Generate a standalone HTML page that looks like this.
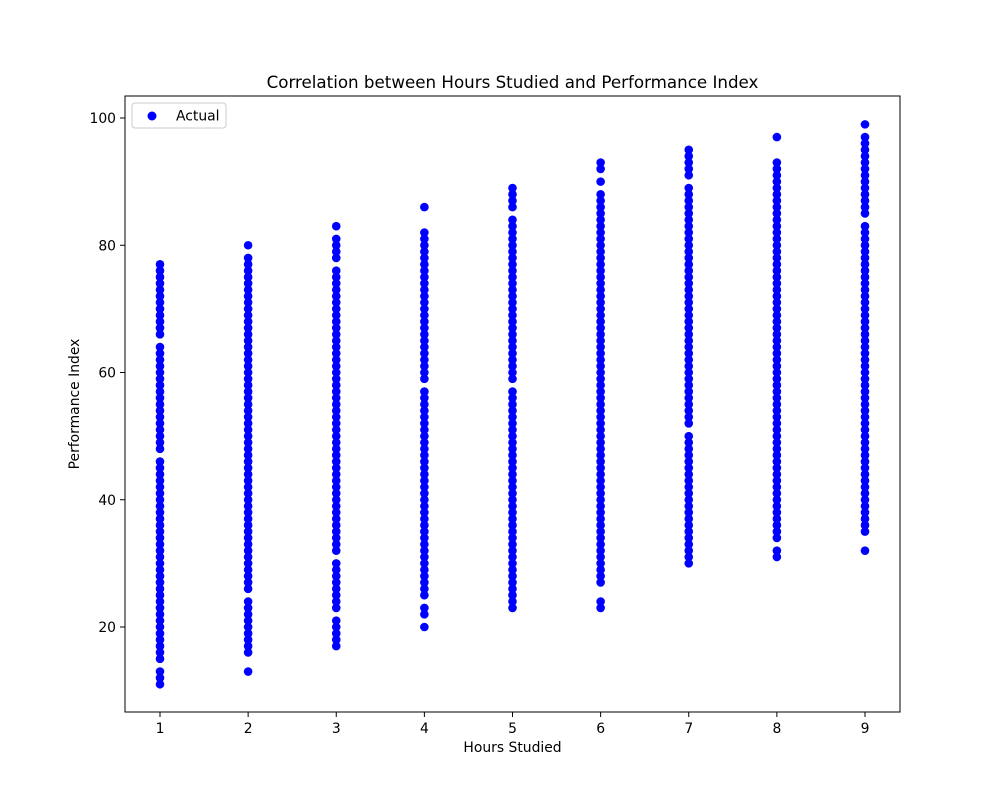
<!DOCTYPE html>
<html><head><meta charset="utf-8"><style>
body{margin:0;background:#fff;}
svg text{font-family:"DejaVu Sans","Liberation Sans",sans-serif;fill:#000;}
</style></head><body>
<svg id="chart" width="1000" height="800" xmlns="http://www.w3.org/2000/svg">
<rect width="1000" height="800" fill="#fff"/>
<g id="points"></g>
<rect x="125" y="96" width="775" height="616" fill="none" stroke="#000" stroke-width="1"/>
<g id="xticks"></g>
<g id="yticks"></g>
<text x="512.5" y="88" font-size="16.7" text-anchor="middle">Correlation between Hours Studied and Performance Index</text>
<text x="512.5" y="752" font-size="13.9" text-anchor="middle">Hours Studied</text>
<text x="79" y="404" font-size="13.9" text-anchor="middle" transform="rotate(-90 79 404)">Performance Index</text>
<g>
<rect x="132" y="103" width="94" height="25" rx="3" fill="#fff" stroke="#ccc"/>
<circle cx="152" cy="116" r="4.5" fill="#0000ff"/>
<text x="176" y="120.5" font-size="13.9">Actual</text>
</g>
</svg>
<script>
const hours = [1,2,3,4,5,6,7,8,9];
const segments1 = [[11,13],[15,46],[48,64],[66,77]];
const segments2 = [[13,13],[16,24],[26,78],[80,80]];
const segments3 = [[17,21],[23,30],[32,76],[78,81],[83,83]];
const segments4 = [[20,20],[22,23],[25,57],[59,82],[86,86]];
const segments5 = [[23,57],[59,84],[86,89]];
const segments6 = [[23,24],[27,88],[90,90],[92,93]];
const segments7 = [[30,50],[52,89],[91,95]];
const segments8 = [[31,32],[34,93],[97,97]];
const segments9 = [[32,32],[35,83],[85,97],[99,99]];
const allSegments = [segments1,segments2,segments3,segments4,segments5,segments6,segments7,segments8,segments9];
const xTickLabels = [1,2,3,4,5,6,7,8,9];
const yTickLabels = [20,40,60,80,100];

const NS="http://www.w3.org/2000/svg";
function xs(v){return 160+(v-1)*(865-160)/8;}
function ys(v){return 627-(v-20)*(627-118)/80;}
const pts=document.getElementById('points');
hours.forEach((h,i)=>{
  allSegments[i].forEach(seg=>{
    for(let v=seg[0];v<=seg[1];v++){
      const c=document.createElementNS(NS,'circle');
      c.setAttribute('cx',xs(h));c.setAttribute('cy',ys(v));c.setAttribute('r',4.3);c.setAttribute('fill','#0000ff');
      
      
      pts.appendChild(c);
    }
  });
});
const xg=document.getElementById('xticks');
xTickLabels.forEach(t=>{
  const l=document.createElementNS(NS,'line');
  l.setAttribute('x1',xs(t));l.setAttribute('x2',xs(t));l.setAttribute('y1',712);l.setAttribute('y2',717);l.setAttribute('stroke','#000');
  
  
  xg.appendChild(l);
  const tx=document.createElementNS(NS,'text');
  tx.setAttribute('x',xs(t));tx.setAttribute('y',733);tx.setAttribute('font-size','13.9');tx.setAttribute('text-anchor','middle');
  tx.textContent=t;
  
  
  xg.appendChild(tx);
});
const yg=document.getElementById('yticks');
yTickLabels.forEach(t=>{
  const l=document.createElementNS(NS,'line');
  l.setAttribute('x1',120);l.setAttribute('x2',125);l.setAttribute('y1',ys(t));l.setAttribute('y2',ys(t));l.setAttribute('stroke','#000');
  
  
  yg.appendChild(l);
  const tx=document.createElementNS(NS,'text');
  tx.setAttribute('x',116);tx.setAttribute('y',ys(t)+5);tx.setAttribute('font-size','13.9');tx.setAttribute('text-anchor','end');
  tx.textContent=t;
  
  
  yg.appendChild(tx);
});
</script>
</body></html>
